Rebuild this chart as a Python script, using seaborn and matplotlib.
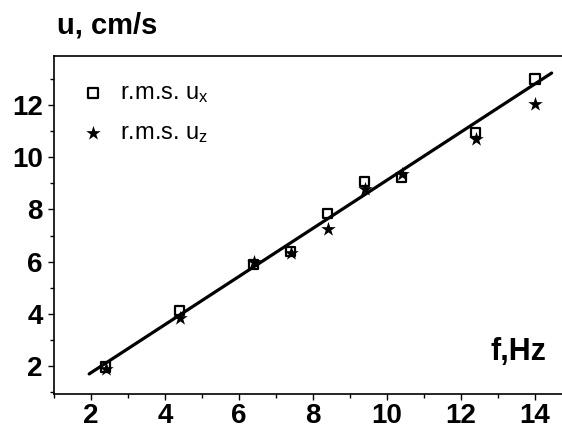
import numpy as np
import pandas as pd
import seaborn as sns
from matplotlib import pyplot as plt
from matplotlib.ticker import MultipleLocator

# frequency, Hz
f = [2.4, 4.4, 6.4, 7.4, 8.4, 9.4, 10.4, 12.4, 14.0]
# r.m.s. velocities, cm/s
ux = [1.96, 4.12, 5.88, 6.38, 7.85, 9.08, 9.23, 10.96, 13.0]
uz = [1.90, 3.85, 6.00, 6.35, 7.27, 8.77, 9.35, 10.69, 12.04]
# extent of the fitted line
fit_f = [1.95, 14.45]

labels = ["r.m.s. $\\mathregular{u_x}$", "r.m.s. $\\mathregular{u_z}$"]

sns.set_theme(style="ticks")
plt.rcParams["font.family"] = ["Liberation Sans", "DejaVu Sans"]
plt.rcParams["mathtext.fontset"] = "custom"
plt.rcParams["mathtext.rm"] = "Liberation Sans"
for k in ["text.color", "axes.labelcolor", "xtick.color", "ytick.color", "axes.edgecolor"]:
    plt.rcParams[k] = "black"

data = pd.DataFrame({"f": f, "ux": ux, "uz": uz})

# linear fit of u_x
slope, icpt = np.polyfit(data["f"], data["ux"], 1)
line = pd.DataFrame({"f": fit_f, "u": [slope * v + icpt for v in fit_f]})

fig = plt.figure(figsize=(5.62, 4.30), dpi=100)
ax = fig.add_axes([54 / 562, 1 - 394 / 430, 508 / 562, 338 / 430])

sns.lineplot(data=line, x="f", y="u", color="black", linewidth=2.3, ax=ax, legend=False)
sns.scatterplot(data=data, x="f", y="ux", marker="s", s=45, facecolors="none",
                edgecolor="black", linewidth=1.6, label=labels[0], ax=ax, zorder=3)
sns.scatterplot(data=data, x="f", y="uz", marker="*", s=120, color="black",
                edgecolor="black", linewidth=0, label=labels[1], ax=ax, zorder=4)

ax.set_xlim(1, 14.73)
ax.set_ylim(0.93, 13.88)
ax.xaxis.set_major_locator(MultipleLocator(2))
ax.xaxis.set_minor_locator(MultipleLocator(1))
ax.yaxis.set_major_locator(MultipleLocator(2))
ax.yaxis.set_minor_locator(MultipleLocator(1))
ax.tick_params(which="major", length=4, width=1, labelsize=20, color="black")
ax.tick_params(axis="x", which="major", pad=2.5)
ax.tick_params(axis="y", which="major", pad=4)
ax.tick_params(which="minor", length=3, width=1, color="black")
for lab in ax.get_xticklabels() + ax.get_yticklabels():
    lab.set_fontweight("bold")
ax.set_xlabel("")
ax.set_ylabel("")
ax.spines["right"].set_visible(False)
for s in ["left", "bottom", "top"]:
    ax.spines[s].set_linewidth(1.2)

leg = ax.legend(loc="upper left", bbox_to_anchor=(0.007, 0.985), frameon=False,
                fontsize=17, handlelength=1.2, handletextpad=0.55, labelspacing=0.7)

fig.text(57 / 562, 1 - 33 / 430, "u, cm/s", fontsize=21, fontweight="bold",
         ha="left", va="baseline")
ax.text(0.97, 0.1, "f,Hz", transform=ax.transAxes, fontsize=22, fontweight="bold",
        ha="right", va="baseline")

fig.savefig("out.png", dpi=100)
